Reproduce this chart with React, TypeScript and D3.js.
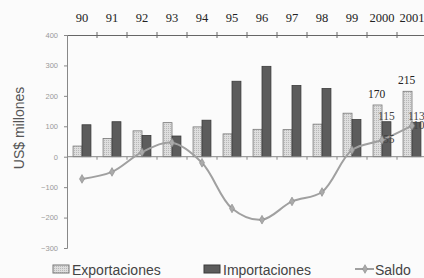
import React, { useEffect, useRef } from 'react';
import * as d3 from 'd3';

const years = ['90', '91', '92', '93', '94', '95', '96', '97', '98', '99', '2000', '2001'];
const exportaciones = [35, 60, 85, 112, 98, 75, 90, 89, 107, 143, 170, 215];
const importaciones = [105, 115, 70, 68, 120, 248, 297, 234, 224, 122, 115, 113];
const saldo = [-73, -50, 15, 46, -20, -170, -207, -147, -116, 22, 55, 102];
const yTicks = [400, 300, 200, 100, 0, -100, -200, -300];

const W = 424;
const H = 278;

const App = () => {
  const ref = useRef<SVGSVGElement>(null);

  useEffect(() => {
    const svg = d3.select(ref.current);
    svg.selectAll('*').remove();

    const x = d3.scaleBand().domain(years).range([67, 427]).paddingInner(0).paddingOuter(0);
    const xs = d3.scaleBand().domain(['exp', 'imp']).range([0, x.bandwidth()]).paddingOuter(0.68);
    const y = d3.scaleLinear().domain([-300, 400]).range([248, 35]);

    svg.append('rect').attr('width', W).attr('height', H).attr('fill', '#fbfbfb');

    const defs = svg.append('defs');
    const pat = defs.append('pattern').attr('id', 'dots').attr('width', 2).attr('height', 2)
      .attr('patternUnits', 'userSpaceOnUse');
    pat.append('rect').attr('width', 2).attr('height', 2).attr('fill', '#dedede');
    pat.append('rect').attr('width', 1).attr('height', 1).attr('fill', '#b8b8b8');

    // left axis
    const left = svg.append('g').attr('transform', 'translate(67,0)')
      .call(d3.axisLeft(y).tickValues(yTicks).tickSize(3).tickPadding(6).tickFormat(d3.format('d')));
    left.select('.domain').attr('stroke', '#888');
    left.selectAll('.tick line').attr('stroke', '#888');
    left.selectAll('text').attr('fill', '#999').style('font-size', '7.5px').style('font-family', 'Arial, sans-serif');

    // top axis line with ticks
    const top = svg.append('g').attr('transform', `translate(0,${y(400)})`)
      .call(d3.axisTop(x).tickSize(0).tickFormat(() => ''));
    top.select('.domain').attr('stroke', '#666');
    svg.append('g').selectAll('line').data(years).join('line')
      .attr('x1', d => x(d)! + x.bandwidth()).attr('x2', d => x(d)! + x.bandwidth())
      .attr('y1', y(400) - 3).attr('y2', y(400) + 3).attr('stroke', '#666');

    svg.append('g').selectAll('text').data(years).join('text')
      .attr('x', d => x(d)! + x.bandwidth() / 2).attr('y', 22)
      .attr('text-anchor', 'middle').attr('fill', '#222')
      .style('font-family', '"Liberation Serif", "Times New Roman", serif').style('font-size', '12.5px')
      .text(d => d);

    // bars
    const bars = svg.append('g');
    bars.selectAll('rect.exp').data(years).join('rect').attr('class', 'exp')
      .attr('x', d => x(d)! + xs('exp')!).attr('width', xs.bandwidth())
      .attr('y', (d, i) => y(exportaciones[i])).attr('height', (d, i) => y(0) - y(exportaciones[i]))
      .attr('fill', 'url(#dots)').attr('stroke', '#777').attr('stroke-width', 0.8);
    bars.selectAll('rect.imp').data(years).join('rect').attr('class', 'imp')
      .attr('x', d => x(d)! + xs('imp')!).attr('width', xs.bandwidth())
      .attr('y', (d, i) => y(importaciones[i])).attr('height', (d, i) => y(0) - y(importaciones[i]))
      .attr('fill', '#5c5c5c').attr('stroke', '#3a3a3a').attr('stroke-width', 0.8);

    // zero line
    svg.append('line').attr('x1', 67).attr('x2', W).attr('y1', y(0)).attr('y2', y(0)).attr('stroke', '#888');
    svg.append('g').selectAll('line').data(years).join('line')
      .attr('x1', d => x(d)! + x.bandwidth()).attr('x2', d => x(d)! + x.bandwidth())
      .attr('y1', y(0)).attr('y2', y(0) + 3).attr('stroke', '#888');

    // saldo line
    const line = d3.line<number>()
      .x((d, i) => x(years[i])! + x.bandwidth() / 2)
      .y(d => y(d))
      .curve(d3.curveCatmullRom.alpha(0.5));
    svg.append('path').datum(saldo).attr('d', line).attr('fill', 'none')
      .attr('stroke', '#a0a0a0').attr('stroke-width', 2);
    const sym = d3.symbol().type(d3.symbolDiamond).size(22);
    svg.append('g').selectAll('path').data(saldo).join('path')
      .attr('transform', (d, i) => `translate(${x(years[i])! + x.bandwidth() / 2},${y(d)})`)
      .attr('d', sym).attr('fill', '#aaa').attr('stroke', '#888').attr('stroke-width', 0.6);

    // data labels for last two years
    const lab = svg.append('g').attr('fill', '#222')
      .style('font-family', '"Liberation Serif", "Times New Roman", serif').style('font-size', '11.5px');
    [10, 11].forEach(i => {
      const cx = x(years[i])!;
      lab.append('text').attr('x', cx + xs('exp')! + xs.bandwidth() / 2 - 1).attr('y', y(exportaciones[i]) - 7)
        .attr('text-anchor', 'middle').text(exportaciones[i]);
      lab.append('text').attr('x', cx + xs('imp')! + xs.bandwidth() / 2).attr('y', y(importaciones[i]) - 2)
        .attr('text-anchor', 'middle').attr('fill', '#444').text(importaciones[i]);
      lab.append('text').attr('x', cx + x.bandwidth() / 2 + 1).attr('y', y(saldo[i]) + 3)
        .attr('fill', '#444').text(saldo[i]);
    });

    // y title
    svg.append('text').attr('transform', 'translate(24,128) rotate(-90)')
      .attr('text-anchor', 'middle').attr('fill', '#555')
      .style('font-family', 'Arial, "Liberation Sans", sans-serif').style('font-size', '14px')
      .text('US$ millones');

    // legend
    const lg = svg.append('g').style('font-family', 'Arial, "Liberation Sans", sans-serif')
      .style('font-size', '14px').attr('fill', '#444');
    lg.append('rect').attr('x', 53).attr('y', 265).attr('width', 16).attr('height', 8)
      .attr('fill', 'url(#dots)').attr('stroke', '#777');
    lg.append('text').attr('x', 72).attr('y', 274.5).text('Exportaciones');
    lg.append('rect').attr('x', 204).attr('y', 265).attr('width', 16).attr('height', 8)
      .attr('fill', '#5c5c5c').attr('stroke', '#3a3a3a');
    lg.append('text').attr('x', 223).attr('y', 274.5).text('Importaciones');
    lg.append('line').attr('x1', 355).attr('x2', 374).attr('y1', 269).attr('y2', 269)
      .attr('stroke', '#a0a0a0').attr('stroke-width', 2);
    lg.append('path').attr('transform', 'translate(365,269)').attr('d', sym)
      .attr('fill', '#aaa').attr('stroke', '#888').attr('stroke-width', 0.6);
    lg.append('text').attr('x', 375).attr('y', 274.5).text('Saldo');
  }, []);

  return (
    <svg ref={ref} width={W} height={H}
      style={{ position: 'absolute', left: 0, top: 0, display: 'block' }} />
  );
};

export default App;
